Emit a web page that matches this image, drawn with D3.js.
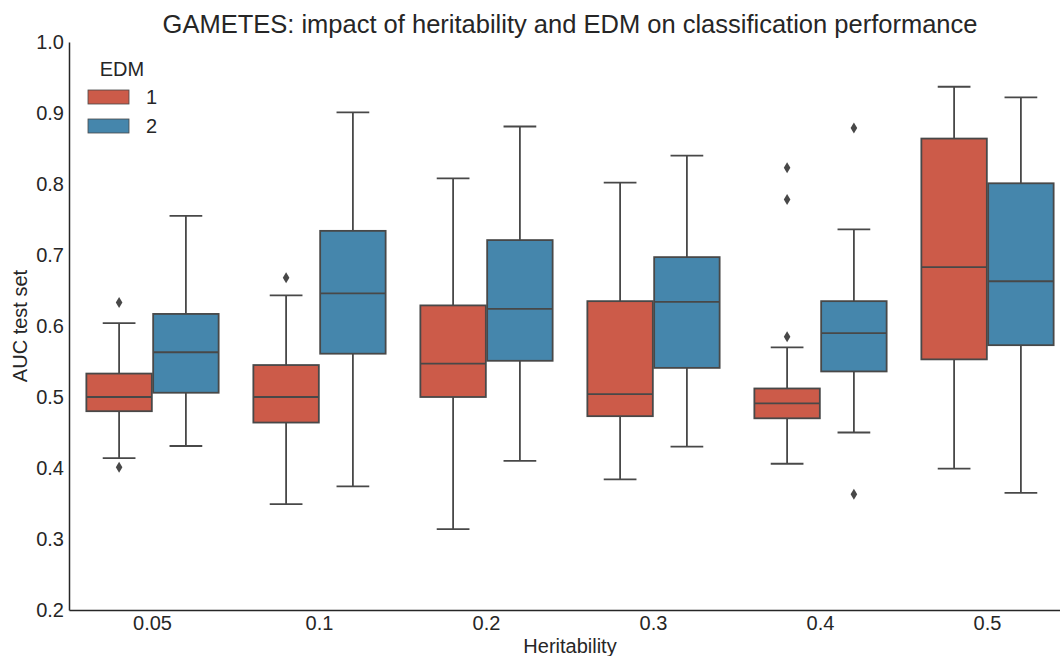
<!DOCTYPE html>
<html lang="en">
<head>
    <meta charset="UTF-8">
    <title>GAMETES boxplot</title>
    <script src="https://d3js.org/d3.v7.min.js"></script>
    <style>
        body { margin: 0; background: #fff; }
        svg { display: block; font-family: "Liberation Sans", Arial, sans-serif; }
        .tick text { fill: #262626; font-size: 20px; }
        .lab { fill: #262626; font-size: 20px; }
    </style>
</head>
<body>
    <div id="chart"></div>

    <script>
        // heritability levels on the x axis
        var categories = ["0.05", "0.1", "0.2", "0.3", "0.4", "0.5"];
        var hues = ["1", "2"];
        var colors = ["#cc5b49", "#4586ac"];
        var yTicks = [0.2, 0.3, 0.4, 0.5, 0.6, 0.7, 0.8, 0.9, 1.0];

        // EDM 1 box stats (per category)
        var edm1Low    = [0.414, 0.349, 0.314, 0.384, 0.406, 0.399];
        var edm1Q1     = [0.480, 0.464, 0.500, 0.473, 0.470, 0.553];
        var edm1Median = [0.500, 0.500, 0.547, 0.504, 0.491, 0.683];
        var edm1Q3     = [0.533, 0.545, 0.629, 0.635, 0.512, 0.864];
        var edm1High   = [0.604, 0.643, 0.808, 0.802, 0.570, 0.937];
        var edm1Fliers = [[0.633, 0.401], [0.668], [], [], [0.823, 0.778, 0.585], []];

        // EDM 2 box stats
        var edm2Low    = [0.431, 0.374, 0.410, 0.430, 0.450, 0.365];
        var edm2Q1     = [0.506, 0.561, 0.551, 0.541, 0.536, 0.573];
        var edm2Median = [0.563, 0.646, 0.624, 0.634, 0.590, 0.663];
        var edm2Q3     = [0.617, 0.734, 0.721, 0.697, 0.635, 0.801];
        var edm2High   = [0.755, 0.901, 0.881, 0.840, 0.736, 0.922];
        var edm2Fliers = [[], [], [], [], [0.879, 0.363], []];

        var W = 1060, H = 656;
        var m = {left: 69, right: 1071, top: 42, bottom: 610};
        var gray = "#484848";

        var svg = d3.select("#chart").append("svg")
            .attr("width", W)
            .attr("height", H);

        var x = d3.scaleBand().domain(categories).range([m.left, m.right]).padding(0);
        var xHue = d3.scaleBand().domain(hues).range([0, x.bandwidth() * 0.8]).padding(0);
        var y = d3.scaleLinear().domain([0.2, 1.0]).range([m.bottom, m.top]);

        var stats = [
            {low: edm1Low, q1: edm1Q1, med: edm1Median, q3: edm1Q3, high: edm1High, fliers: edm1Fliers},
            {low: edm2Low, q1: edm2Q1, med: edm2Median, q3: edm2Q3, high: edm2High, fliers: edm2Fliers}
        ];

        var boxes = [];
        stats.forEach(function(s, h) {
            categories.forEach(function(c, i) {
                boxes.push({cat: c, hue: h, low: s.low[i], q1: s.q1[i], med: s.med[i],
                            q3: s.q3[i], high: s.high[i], fliers: s.fliers[i]});
            });
        });

        var g = svg.append("g");
        var bw = xHue.bandwidth() * 0.98;

        boxes.forEach(function(d) {
            var x0 = x(d.cat) + x.bandwidth() * 0.1 + xHue(hues[d.hue]);
            var cx = x0 + xHue.bandwidth() / 2;
            var bx = cx - bw / 2;
            var b = g.append("g");

            // whiskers
            b.append("line").attr("x1", cx).attr("x2", cx)
                .attr("y1", y(d.q3)).attr("y2", y(d.high))
                .attr("stroke", gray).attr("stroke-width", 1.8);
            b.append("line").attr("x1", cx).attr("x2", cx)
                .attr("y1", y(d.q1)).attr("y2", y(d.low))
                .attr("stroke", gray).attr("stroke-width", 1.8);
            // caps
            [d.high, d.low].forEach(function(v) {
                b.append("line").attr("x1", cx - bw / 4).attr("x2", cx + bw / 4)
                    .attr("y1", y(v)).attr("y2", y(v))
                    .attr("stroke", gray).attr("stroke-width", 1.8);
            });
            // box
            b.append("rect")
                .attr("x", bx).attr("width", bw)
                .attr("y", y(d.q3)).attr("height", y(d.q1) - y(d.q3))
                .attr("fill", colors[d.hue])
                .attr("stroke", gray).attr("stroke-width", 1.8);
            // median
            b.append("line").attr("x1", bx).attr("x2", bx + bw)
                .attr("y1", y(d.med)).attr("y2", y(d.med))
                .attr("stroke", gray).attr("stroke-width", 1.8);
            // fliers (diamonds)
            d.fliers.forEach(function(v) {
                b.append("path")
                    .attr("d", "M0,-5.5L3.3,0L0,5.5L-3.3,0Z")
                    .attr("transform", "translate(" + cx + "," + y(v) + ")")
                    .attr("fill", gray);
            });
        });

        // axes
        var yAxis = svg.append("g")
            .attr("transform", "translate(" + m.left + ",0)")
            .call(d3.axisLeft(y).tickValues(yTicks).tickFormat(d3.format(".1f"))
                .tickSize(0).tickPadding(5));
        yAxis.select(".domain").attr("stroke", "#262626").attr("stroke-width", 1.5);

        var xAxis = svg.append("g")
            .attr("transform", "translate(0," + m.bottom + ")")
            .call(d3.axisBottom(x).tickSize(0).tickPadding(6));
        xAxis.select(".domain").attr("stroke", "#262626").attr("stroke-width", 1.5);
        svg.selectAll(".tick text").style("font-family", "'Liberation Sans', Arial, sans-serif");

        // title and labels
        svg.append("text").attr("class", "lab")
            .attr("x", (m.left + m.right) / 2).attr("y", 33)
            .attr("text-anchor", "middle").style("font-size", "25.5px")
            .text("GAMETES: impact of heritability and EDM on classification performance");

        svg.append("text").attr("class", "lab")
            .attr("x", (m.left + m.right) / 2).attr("y", 653)
            .attr("text-anchor", "middle")
            .text("Heritability");

        svg.append("text").attr("class", "lab")
            .attr("transform", "translate(27," + (m.top + m.bottom) / 2 + ") rotate(-90)")
            .attr("text-anchor", "middle")
            .text("AUC test set");

        // legend
        var leg = svg.append("g");
        leg.append("text").attr("class", "lab")
            .attr("x", 122).attr("y", 76).attr("text-anchor", "middle")
            .text("EDM");
        hues.forEach(function(h, i) {
            var yy = 90 + i * 29;
            leg.append("rect")
                .attr("x", 88).attr("y", yy).attr("width", 41).attr("height", 14)
                .attr("fill", colors[i]).attr("stroke", gray).attr("stroke-width", 0.8);
            leg.append("text").attr("class", "lab")
                .attr("x", 146).attr("y", yy + 14)
                .text(h);
        });
    </script>
</body>
</html>
